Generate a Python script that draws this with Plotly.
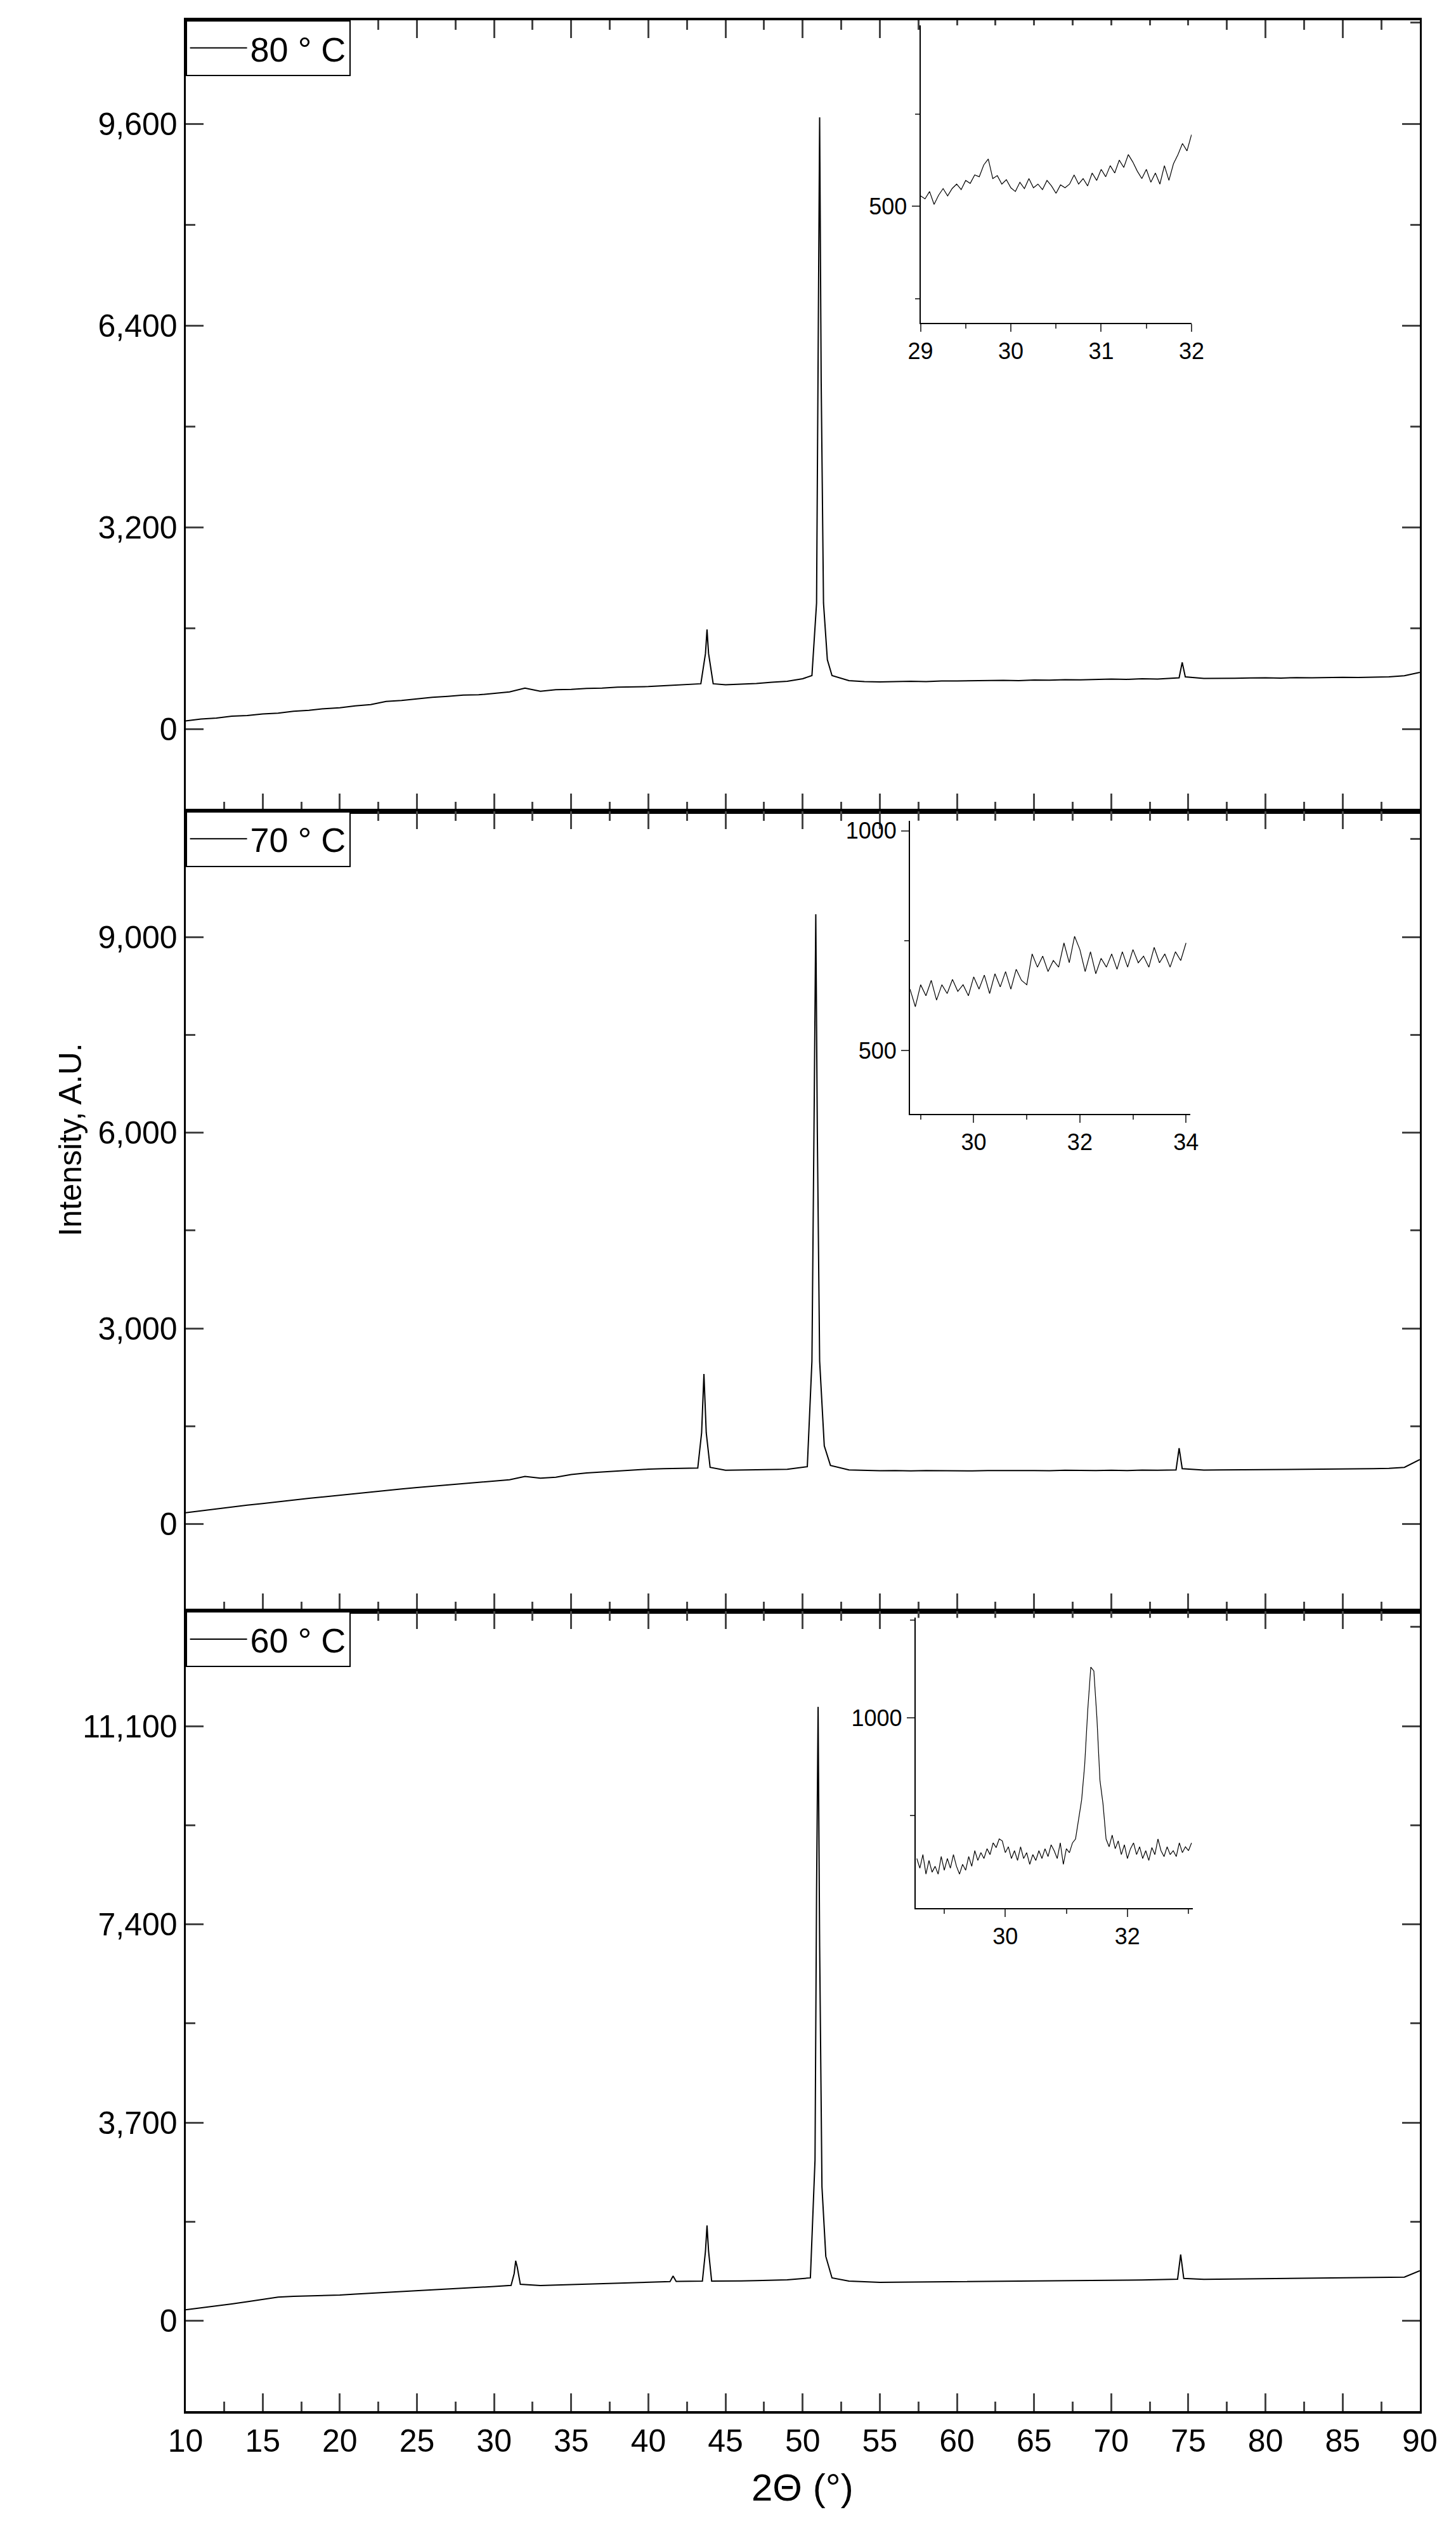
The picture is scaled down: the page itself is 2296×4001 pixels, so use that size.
import numpy as np
import plotly.graph_objects as go

# ---------------- data ----------------
base_x = list(range(10, 91))
p1_base = [130,160,175,205,215,240,255,285,300,325,340,370,390,440,455,480,505,520,540,545,
           570,590,650,600,625,630,645,650,665,670,675,690,700,705,720,705,715,725,745,760,
           800,820,790,770,755,750,755,760,755,765,765,770,768,775,770,780,778,785,782,790,
           795,790,800,795,805,815,805,810,808,812,815,810,818,815,820,823,820,828,830,848,900]
p1_px = [43.4,43.7,43.8,43.9,44.2, 50.6,50.9,51.0,51.1,51.2,51.35,51.6,51.9, 74.4,74.6,74.8]
p1_py = [720,1200,1580,1200,720, 850,2000,6000,9700,5500,2000,1100,850, 815,1060,830]

p2_base = [175,205,235,260,290,315,345,370,395,420,446,470,495,515,540,560,580,600,615,640,
           655,680,730,705,720,760,785,800,815,830,843,850,855,860,850,825,830,828,835,840,
           860,870,850,830,822,818,820,815,822,818,820,815,822,818,820,822,818,825,820,822,
           825,820,828,825,830,835,828,830,832,828,835,832,838,835,840,845,842,850,855,870,990]
p2_px = [43.2,43.45,43.6,43.75,44.0, 50.3,50.6,50.75,50.85,50.95,51.1,51.4,51.8, 74.2,74.4,74.6]
p2_py = [860,1400,2300,1400,870, 880,2500,6500,9350,6000,2500,1200,900, 830,1165,850]

p3_base = [205,240,275,315,355,400,441,455,462,472,481,497,512,530,545,560,575,590,605,620,
           640,650,640,658,665,675,685,692,700,710,717,725,730,735,737,737,742,748,755,765,
           776,790,770,740,725,717,720,722,725,728,730,732,735,738,740,742,745,748,750,752,
           755,758,762,766,770,776,772,775,778,780,782,785,788,790,795,798,800,805,810,815,934]
p3_px = [31.1,31.3,31.4,31.5,31.7, 41.4,41.6,41.8, 43.5,43.7,43.8,43.9,44.1,
         50.5,50.8,50.9,51.0,51.1,51.25,51.5,51.9, 74.3,74.5,74.7]
p3_py = [660,880,1120,1000,680, 730,835,735, 740,1300,1780,1300,740,
         800,3000,8000,11460,7000,2500,1200,800, 776,1237,790]

in1_x = np.round(np.arange(29.0, 32.001, 0.05), 2)
in1_y = [528,520,540,505,530,548,528,548,560,545,570,562,585,580,612,628,575,583,560,572,
         550,540,565,548,575,550,560,545,570,555,535,558,550,560,585,560,575,555,590,570,
         600,580,610,590,625,605,640,620,595,575,600,565,590,560,610,570,615,640,670,650,694]
in2_x = np.round(np.arange(28.8, 34.001, 0.1), 2)
in2_y = [640,600,650,625,660,615,650,630,662,635,650,625,668,640,672,630,675,645,680,640,
         685,660,650,720,690,715,680,705,690,745,700,760,730,680,725,675,710,690,720,685,
         725,690,730,700,715,690,735,700,720,690,725,705,745]
in3_x = np.round(np.arange(28.55, 33.051, 0.05), 2)
in3_y = [640,615,650,600,635,605,620,600,645,610,640,615,650,620,600,625,610,645,620,660,
         635,655,640,665,650,680,668,690,685,655,670,640,660,635,670,640,655,625,650,635,
         660,640,665,645,675,660,640,680,625,665,655,680,690,740,790,880,1020,1130,1120,1000,
         840,780,690,670,700,665,685,650,675,640,665,680,650,670,640,660,635,668,650,690,
         660,645,670,650,660,645,680,655,670,660,680]

labels = ["80 ° C", "70 ° C", "60 ° C"]
panels = [(p1_base, p1_px, p1_py), (p2_base, p2_px, p2_py), (p3_base, p3_px, p3_py)]

def merge(base, px, py):
    pts = [(x, y) for x, y in zip(base_x, base) if min(abs(x - p) for p in px) > 0.6]
    pts += list(zip(px, py))
    pts.sort()
    return [p[0] for p in pts], [p[1] for p in pts]

# ---------------- layout geometry ----------------
W, H = 2296, 4001
xd = [263 / W, 2258 / W]
ydoms = [[1 - 1268 / H, 1 - 20 / H], [1 - 2531 / H, 1 - 1268 / H], [1 - 3793 / H, 1 - 2531 / H]]
yranges = [[-1300, 11240], [-1340, 10930], [-1690, 13240]]
dticks = [3200, 3000, 3700]

FONT = "Liberation Sans, Arial, sans-serif"
fig = go.Figure()

for i, (base, px, py) in enumerate(panels):
    x, y = merge(base, px, py)
    n = "" if i == 0 else str(i + 1)
    fig.add_trace(go.Scatter(x=x, y=y, mode="lines", line=dict(color="black", width=2),
                             name=labels[i], xaxis="x" + n, yaxis="y" + n,
                             legend="legend" + n, showlegend=True))
    ax = dict(domain=xd, range=[10, 90], dtick=5, tick0=10, ticks="inside", ticklen=28,
              tickwidth=3, showline=True, linewidth=4, linecolor="black", mirror="allticks",
              showgrid=False, zeroline=False, showticklabels=(i == 2),
              tickfont=dict(family=FONT, size=50, color="black"),
              minor=dict(dtick=2.5, ticks="inside", ticklen=15, tickwidth=3, tick0=10),
              anchor="y" + n)
    ay = dict(domain=ydoms[i], range=yranges[i], dtick=dticks[i], tick0=0, ticks="inside",
              ticklen=28, tickwidth=3, showline=True, linewidth=3, linecolor="black",
              mirror="allticks", showgrid=False, zeroline=False, tickformat=",",
              tickfont=dict(family=FONT, size=50, color="black"),
              minor=dict(dtick=dticks[i] / 2, tick0=0, ticks="inside", ticklen=15, tickwidth=3),
              anchor="x" + n)
    fig.layout["xaxis" + n] = ax
    fig.layout["yaxis" + n] = ay
    fig.layout["legend" + n] = dict(x=xd[0], y=ydoms[i][1], xanchor="left", yanchor="top",
                                    bordercolor="black", borderwidth=2, bgcolor="white",
                                    font=dict(family=FONT, size=54, color="black"),
                                    itemwidth=90)

# insets
insets = [
    (in1_x, in1_y, [1451 / W, 1889 / W], [1 - 497 / H, 1 - 28 / H], [29, 32], [185, 990], 1, 0.5),
    (in2_x, in2_y, [1434 / W, 1887 / W], [1 - 1746 / H, 1 - 1283 / H], [28.8, 34.08], [356, 1023], 2, 1),
    (in3_x, in3_y, [1443 / W, 1891 / W], [1 - 2999 / H, 1 - 2541 / H], [28.53, 33.07], [513, 1256], 2, 1),
]
for k, (ix, iy, dx, dy, rx, ry, dt, mdt) in enumerate(insets):
    n = str(4 + k)
    fig.add_trace(go.Scatter(x=ix, y=iy, mode="lines", line=dict(color="black", width=1.2),
                             xaxis="x" + n, yaxis="y" + n, showlegend=False))
    fig.layout["xaxis" + n] = dict(domain=dx, range=rx, dtick=dt, tick0=0, ticks="outside",
                                   ticklen=12, tickwidth=2, showline=True, linewidth=2,
                                   linecolor="black", showgrid=False, zeroline=False,
                                   tickfont=dict(family=FONT, size=36, color="black"),
                                   minor=dict(dtick=mdt, tick0=0, ticks="outside", ticklen=7,
                                              tickwidth=2),
                                   anchor="y" + n)
    fig.layout["yaxis" + n] = dict(domain=dy, range=ry, dtick=500, tick0=0, ticks="outside",
                                   ticklen=12, tickwidth=2, showline=True, linewidth=2,
                                   linecolor="black", showgrid=False, zeroline=False,
                                   tickfont=dict(family=FONT, size=36, color="black"),
                                   minor=dict(dtick=250, tick0=0, ticks="outside", ticklen=7,
                                              tickwidth=2),
                                   anchor="x" + n)

fig.add_annotation(text="Intensity, A.U.", x=46 / W, y=1 - 1786 / H, xref="paper", yref="paper",
                   textangle=-90, showarrow=False, font=dict(family=FONT, size=50, color="black"))
fig.add_annotation(text="2Θ (°)", x=1260 / W, y=1 - 3949 / H, xref="paper", yref="paper",
                   showarrow=False, font=dict(family=FONT, size=60, color="black"))

fig.update_layout(width=W, height=H, margin=dict(l=0, r=0, t=0, b=0),
                  plot_bgcolor="white", paper_bgcolor="white")
fig.write_html("out.html")
